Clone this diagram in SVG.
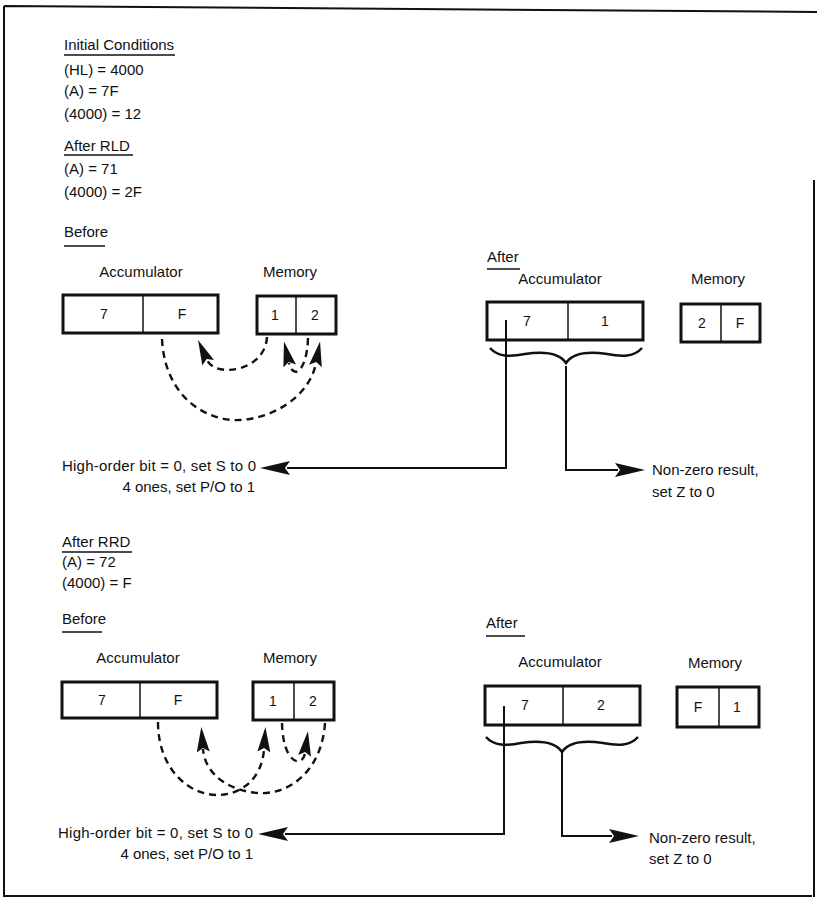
<svg xmlns="http://www.w3.org/2000/svg" width="817" height="900" viewBox="0 0 817 900">
<defs>
<style>
text{font-family:"Liberation Sans",Arial,sans-serif;fill:#111;font-size:15px}
.c{text-anchor:middle}
.e{text-anchor:end}
.cell{font-size:14px;text-anchor:middle}
.box{fill:#fff;stroke:#111;stroke-width:3}
.div{stroke:#111;stroke-width:1.5}
.ul{stroke:#111;stroke-width:1.5}
.ln{fill:none;stroke:#111;stroke-width:2}
.dash{fill:none;stroke:#111;stroke-width:2.4;stroke-dasharray:7 5}
.brace{fill:none;stroke:#111;stroke-width:2.5}
.border{fill:none;stroke:#111;stroke-width:2}
</style>
<marker id="ah" markerUnits="userSpaceOnUse" viewBox="0 0 30 14" markerWidth="30" markerHeight="14" refX="3" refY="7" orient="auto">
<path d="M0,0 L30,7 L0,14 L5,7 z" fill="#111"/>
</marker>
<marker id="ahc" markerUnits="userSpaceOnUse" viewBox="0 0 25 13" markerWidth="25" markerHeight="13" refX="3" refY="6.5" orient="auto">
<path d="M0,0 L25,6.5 L0,13 L4,6.5 z" fill="#111"/>
</marker>
</defs>
<rect width="817" height="900" fill="#fff"/>

<g id="border">
<path class="border" d="M4,6 L817,12 M4,6 V896 H812 M814,180 V897"/>
</g>

<g id="conditions">
<text x="64" y="50">Initial Conditions</text>
<line class="ul" x1="64" y1="55" x2="175" y2="55"/>
<text x="64" y="75">(HL) = 4000</text>
<text x="64" y="96">(A) = 7F</text>
<text x="64" y="119">(4000) = 12</text>
<text x="64" y="151">After RLD</text>
<line class="ul" x1="64" y1="155" x2="133" y2="155"/>
<text x="64" y="174">(A) = 71</text>
<text x="64" y="197">(4000) = 2F</text>
<text x="64" y="237">Before</text>
<line class="ul" x1="64" y1="246" x2="105" y2="246"/>
</g>

<g id="rld-before-acc">
<text class="c" x="141" y="277">Accumulator</text>
<rect class="box" x="63" y="295" width="155" height="38"/>
<line class="div" x1="143" y1="295" x2="143" y2="333"/>
<text class="cell" x="104" y="319">7</text>
<text class="cell" x="182" y="319">F</text>
</g>
<g id="rld-before-mem">
<text class="c" x="290" y="277">Memory</text>
<rect class="box" x="257" y="296" width="79" height="38"/>
<line class="div" x1="296" y1="296" x2="296" y2="334"/>
<text class="cell" x="275" y="320">1</text>
<text class="cell" x="315" y="320">2</text>
</g>

<g id="rld-after-label">
<text x="487" y="262">After</text>
<line class="ul" x1="487" y1="269" x2="520" y2="269"/>
</g>
<g id="rld-after-acc">
<text class="c" x="560" y="284">Accumulator</text>
<rect class="box" x="487" y="302" width="156" height="38"/>
<line class="div" x1="568" y1="302" x2="568" y2="340"/>
<text class="cell" x="527" y="326">7</text>
<text class="cell" x="605" y="326">1</text>
<path class="brace" d="M490,348 C498,357 510,357 525,354 C545,351 560,354 566,363 C572,354 587,351 607,354 C622,357 634,357 642,348"/>
</g>
<g id="rld-after-mem">
<text class="c" x="718" y="284">Memory</text>
<rect class="box" x="681" y="304" width="79" height="38"/>
<line class="div" x1="721" y1="304" x2="721" y2="342"/>
<text class="cell" x="702" y="328">2</text>
<text class="cell" x="740" y="328">F</text>
</g>

<g id="rld-flags">
<text class="e" x="256" y="471" textLength="194" lengthAdjust="spacing">High-order bit = 0, set S to 0</text>
<text class="e" x="255" y="492">4 ones, set P/O to 1</text>
<text x="652" y="475">Non-zero result,</text>
<text x="652" y="497">set Z to 0</text>
</g>

<g id="rrd-conditions">
<text x="62" y="547">After RRD</text>
<line class="ul" x1="62" y1="552" x2="132" y2="552"/>
<text x="62" y="567">(A) = 72</text>
<text x="62" y="588">(4000) = F</text>
<text x="62" y="624">Before</text>
<line class="ul" x1="62" y1="632" x2="102" y2="632"/>
</g>

<g id="rrd-before-acc">
<text class="c" x="138" y="663">Accumulator</text>
<rect class="box" x="62" y="682" width="155" height="36"/>
<line class="div" x1="140" y1="682" x2="140" y2="718"/>
<text class="cell" x="102" y="705">7</text>
<text class="cell" x="178" y="705">F</text>
</g>
<g id="rrd-before-mem">
<text class="c" x="290" y="663">Memory</text>
<rect class="box" x="253" y="682" width="81" height="38"/>
<line class="div" x1="294" y1="682" x2="294" y2="720"/>
<text class="cell" x="273" y="706">1</text>
<text class="cell" x="313" y="706">2</text>
</g>

<g id="rrd-after-label">
<text x="486" y="628">After</text>
<line class="ul" x1="486" y1="636" x2="525" y2="636"/>
</g>
<g id="rrd-after-acc">
<text class="c" x="560" y="667">Accumulator</text>
<rect class="box" x="485" y="686" width="155" height="39"/>
<line class="div" x1="563" y1="686" x2="563" y2="725"/>
<text class="cell" x="525" y="710">7</text>
<text class="cell" x="601" y="710">2</text>
<path class="brace" transform="translate(-4,389)" d="M490,348 C498,357 510,357 525,354 C545,351 560,354 566,363 C572,354 587,351 607,354 C622,357 634,357 642,348"/>
</g>
<g id="rrd-after-mem">
<text class="c" x="715" y="668">Memory</text>
<rect class="box" x="677" y="687" width="82" height="40"/>
<line class="div" x1="719" y1="687" x2="719" y2="727"/>
<text class="cell" x="698" y="712">F</text>
<text class="cell" x="737" y="712">1</text>
</g>

<g id="rrd-flags">
<text class="e" x="253" y="838" textLength="195" lengthAdjust="spacing">High-order bit = 0, set S to 0</text>
<text class="e" x="253" y="859">4 ones, set P/O to 1</text>
<text x="649" y="843">Non-zero result,</text>
<text x="649" y="864">set Z to 0</text>
</g>

<g id="connectors">
<path class="dash" marker-end="url(#ahc)" d="M267,337 C265,372 215,378 207,360"/>
<path class="dash" marker-end="url(#ahc)" d="M308,338 C307,372 293,380 289,363"/>
<path class="dash" marker-end="url(#ahc)" d="M162,339 C165,400 210,422 240,420 C275,418 310,395 316,363"/>
<path class="ln" marker-end="url(#ah)" d="M506,320 V468 H287"/>
<path class="ln" marker-end="url(#ah)" d="M566,366 V470 H618"/>
<path class="dash" marker-end="url(#ahc)" d="M158,722 C158,770 190,795 217,795 C240,795 262,780 264,749"/>
<path class="dash" marker-end="url(#ahc)" d="M325,723 C322,770 290,795 258,793 C230,791 205,775 203,749"/>
<path class="dash" marker-end="url(#ahc)" d="M282,723 C283,765 303,768 305,753"/>
<path class="ln" marker-end="url(#ah)" d="M504,706 V834 H285"/>
<path class="ln" marker-end="url(#ah)" d="M562,752 V836 H612"/>
</g>
</svg>
